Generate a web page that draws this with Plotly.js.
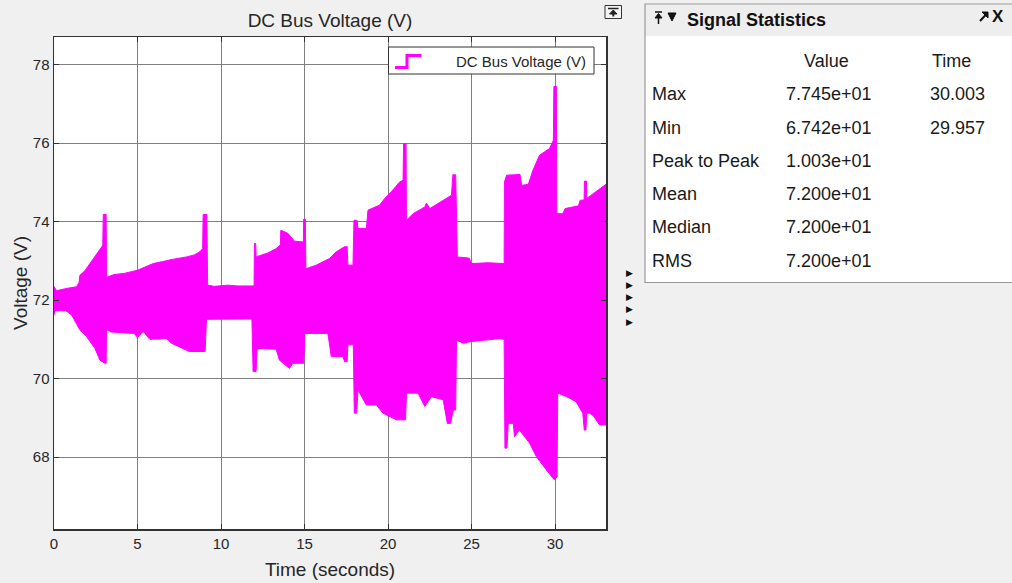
<!DOCTYPE html>
<html>
<head>
<meta charset="utf-8">
<script src="https://cdn.plot.ly/plotly-3.0.1.min.js"></script>
<style>
  html, body { margin: 0; padding: 0; background: #f0f0f0; }
  #chart { width: 1012px; height: 583px; }
</style>
</head>
<body>
<div id="chart"></div>
<script>
// ---- Data (envelope of the DC bus voltage band) ----
const upperTime = [0.00,0.15,0.80,1.36,1.50,1.55,1.85,2.20,2.50,2.85,2.92,2.95,3.12,3.15,3.60,4.20,5.00,5.50,5.94,6.50,7.00,7.94,8.40,8.73,8.90,8.93,9.15,9.20,9.60,10.40,11.00,11.98,12.00,12.08,12.10,12.80,13.30,13.55,13.58,14.00,14.40,14.93,14.95,15.05,15.08,15.70,16.10,16.50,16.90,17.40,17.55,17.60,17.90,17.96,18.15,18.20,18.70,18.80,19.50,19.80,20.20,20.70,20.90,20.93,21.08,21.10,21.50,22.20,22.30,22.50,23.30,23.80,23.88,24.05,24.15,24.85,25.00,26.00,26.95,26.97,27.10,27.90,28.00,28.40,28.67,29.07,29.67,29.90,29.93,30.08,30.10,30.46,30.60,31.40,31.50,31.74,31.76,31.88,31.90,32.40,32.95,33.05];
const upperVolt = [72.35,72.24,72.30,72.34,72.45,72.63,72.75,72.95,73.12,73.35,73.40,74.18,74.18,72.58,72.65,72.68,72.76,72.85,72.93,72.98,73.03,73.10,73.15,73.23,73.31,74.18,74.18,72.38,72.35,72.38,72.36,72.36,73.44,73.44,73.10,73.20,73.31,73.40,73.78,73.70,73.50,73.48,74.06,74.06,72.80,72.89,72.98,73.06,73.23,73.36,73.36,72.89,72.89,74.03,74.03,73.82,73.82,74.29,74.42,74.59,74.76,75.01,75.05,75.98,75.98,74.03,74.20,74.37,74.47,74.33,74.54,74.67,75.19,75.19,73.10,73.07,72.93,72.95,72.93,75.01,75.18,75.20,74.92,74.95,75.30,75.69,75.86,76.07,77.44,77.44,74.20,74.20,74.33,74.40,74.54,74.55,75.03,75.03,74.59,74.75,74.92,74.95];
const lowerTime = [0.00,0.05,0.70,1.06,1.55,1.95,2.45,2.75,3.05,3.12,3.15,3.40,4.80,5.00,5.34,5.74,6.74,7.04,7.70,8.10,9.05,9.13,11.85,11.92,12.10,12.16,13.30,13.50,14.10,14.30,14.95,15.02,16.40,16.60,17.30,17.40,17.55,17.60,17.92,17.98,18.12,18.20,18.70,19.30,19.70,20.50,21.05,21.10,21.80,22.20,22.60,23.30,23.55,23.75,23.90,24.05,24.10,24.50,24.90,26.70,26.95,27.00,27.12,27.20,27.50,27.57,27.87,28.47,28.87,29.47,29.86,29.97,30.12,30.16,30.70,31.26,31.66,31.75,31.85,31.90,32.06,32.30,32.66,33.05];
const lowerVolt = [71.62,71.73,71.73,71.62,71.24,71.07,70.77,70.47,70.39,70.39,71.25,71.19,71.15,71.05,71.20,71.00,71.02,70.90,70.77,70.69,70.69,71.51,71.52,70.18,70.18,70.77,70.75,70.47,70.26,70.39,70.39,71.15,71.15,70.56,70.56,70.43,70.43,70.86,70.86,69.12,69.12,69.71,69.33,69.33,69.12,68.95,68.95,69.63,69.63,69.29,69.54,69.46,68.86,68.86,69.20,69.20,70.98,70.90,70.94,71.02,71.00,68.23,68.23,68.86,68.86,68.52,68.69,68.36,68.02,67.68,67.47,67.42,67.50,69.63,69.54,69.41,69.12,68.69,68.69,69.12,69.12,69.05,68.82,68.82];

const xTickVals = [0, 5, 10, 15, 20, 25, 30];
const yTickVals = [68, 70, 72, 74, 76, 78];

const seriesName = 'DC Bus Voltage (V)';
const statNames  = ['Max', 'Min', 'Peak to Peak', 'Mean', 'Median', 'RMS'];
const statValues = ['7.745e+01', '6.742e+01', '1.003e+01', '7.200e+01', '7.200e+01', '7.200e+01'];
const statTimes  = ['30.003', '29.957', '', '', '', ''];

// ---- Layout helpers (pixel -> paper) ----
const PL = 54, PR = 606, PT = 37, PB = 529;
const px = x => (x - PL) / (PR - PL);
const py = y => (PB - y) / (PB - PT);
const FONT = 'Liberation Sans, Arial, sans-serif';
const MAG = '#ff00ff';

// Band polygon built from the envelopes
const bandX = upperTime.concat(lowerTime.slice().reverse());
const bandY = upperVolt.concat(lowerVolt.slice().reverse());

const traces = [{
  type: 'scatter', mode: 'lines', x: bandX, y: bandY,
  fill: 'toself', fillcolor: MAG,
  line: { color: MAG, width: 1 }, name: seriesName, showlegend: false,
  hoverinfo: 'skip'
}];

const shapes = [];
const annotations = [];

// Legend (step-line icon, like the scope)
shapes.push({ type: 'rect', xref: 'paper', yref: 'paper', x0: px(388.5), x1: px(594), y0: py(74), y1: py(47),
  fillcolor: '#ffffff', line: { color: '#333333', width: 1 } });
shapes.push({ type: 'path', xref: 'paper', yref: 'paper',
  path: `M ${px(395)},${py(67.5)} L ${px(407)},${py(67.5)} L ${px(407)},${py(55.5)} L ${px(421.5)},${py(55.5)}`,
  line: { color: MAG, width: 3 } });
annotations.push({ xref: 'paper', yref: 'paper', x: px(588), y: py(61.5), xanchor: 'right', yanchor: 'middle',
  text: seriesName, showarrow: false, font: { family: FONT, size: 15, color: '#262626' } });

// Scope undock icon
shapes.push({ type: 'rect', xref: 'paper', yref: 'paper', x0: px(605), x1: px(621.5), y0: py(18.5), y1: py(5.5),
  fillcolor: '#f4f4f4', line: { color: '#333333', width: 1 } });
shapes.push({ type: 'path', xref: 'paper', yref: 'paper',
  path: `M ${px(608)},${py(8.5)} L ${px(618.5)},${py(8.5)}`, line: { color: '#222', width: 1.5 } });
shapes.push({ type: 'path', xref: 'paper', yref: 'paper',
  path: `M ${px(613.3)},${py(10)} L ${px(609.5)},${py(14)} L ${px(617)},${py(14)} Z`,
  fillcolor: '#222', line: { color: '#222', width: 1 } });
shapes.push({ type: 'path', xref: 'paper', yref: 'paper',
  path: `M ${px(613.3)},${py(13)} L ${px(613.3)},${py(16.5)}`, line: { color: '#222', width: 2 } });

// Small arrows between plot and panel
for (let i = 0; i < 5; i++) {
  annotations.push({ xref: 'paper', yref: 'paper', x: px(629.5), y: py(272.7 + i * 12.2),
    xanchor: 'center', yanchor: 'middle', text: '▶', showarrow: false,
    font: { family: 'DejaVu Sans', size: 9, color: '#111' } });
}

// Signal Statistics panel
shapes.push({ type: 'rect', xref: 'paper', yref: 'paper', x0: px(645), x1: px(1014), y0: py(282.5), y1: py(36),
  fillcolor: '#ffffff', line: { width: 0 } });
shapes.push({ type: 'rect', xref: 'paper', yref: 'paper', x0: px(645), x1: px(1014), y0: py(36), y1: py(4),
  fillcolor: '#eeeeee', line: { width: 0 } });
shapes.push({ type: 'path', xref: 'paper', yref: 'paper',
  path: `M ${px(1014)},${py(4)} L ${px(645)},${py(4)} L ${px(645)},${py(282.5)} L ${px(1014)},${py(282.5)}`,
  line: { color: '#9a9a9a', width: 1.2 } });

// header glyphs: pin (bar + arrow) and dropdown triangle
shapes.push({ type: 'path', xref: 'paper', yref: 'paper',
  path: `M ${px(655)},${py(12)} L ${px(662)},${py(12)}`, line: { color: '#111', width: 1.5 } });
shapes.push({ type: 'path', xref: 'paper', yref: 'paper',
  path: `M ${px(658.5)},${py(13.5)} L ${px(655)},${py(18)} L ${px(662)},${py(18)} Z`,
  fillcolor: '#111', line: { color: '#111', width: 1 } });
shapes.push({ type: 'path', xref: 'paper', yref: 'paper',
  path: `M ${px(658.5)},${py(17)} L ${px(658.5)},${py(24)}`, line: { color: '#111', width: 1.5 } });
shapes.push({ type: 'path', xref: 'paper', yref: 'paper',
  path: `M ${px(668)},${py(13)} L ${px(676)},${py(13)} L ${px(672)},${py(21)} Z`,
  fillcolor: '#111', line: { color: '#111', width: 1 } });
annotations.push({ xref: 'paper', yref: 'paper', x: px(685), y: py(20), xanchor: 'left', yanchor: 'middle',
  text: '<b>Signal Statistics</b>', showarrow: false, font: { family: FONT, size: 18, color: '#111' } });
// undock arrow + close
shapes.push({ type: 'path', xref: 'paper', yref: 'paper',
  path: `M ${px(980)},${py(21)} L ${px(987)},${py(13.5)}`, line: { color: '#111', width: 2 } });
shapes.push({ type: 'path', xref: 'paper', yref: 'paper',
  path: `M ${px(982)},${py(12)} L ${px(988)},${py(12)} L ${px(988)},${py(18)} Z`,
  fillcolor: '#111', line: { color: '#111', width: 1 } });
annotations.push({ xref: 'paper', yref: 'paper', x: px(998), y: py(16.5), xanchor: 'center', yanchor: 'middle',
  text: '<b>X</b>', showarrow: false, font: { family: FONT, size: 17, color: '#111' } });

annotations.push({ xref: 'paper', yref: 'paper', x: px(827), y: py(61), xanchor: 'center', yanchor: 'middle',
  text: 'Value', showarrow: false, font: { family: FONT, size: 18, color: '#1a1a1a' } });
annotations.push({ xref: 'paper', yref: 'paper', x: px(930), y: py(61), xanchor: 'left', yanchor: 'middle',
  text: 'Time', showarrow: false, font: { family: FONT, size: 18, color: '#1a1a1a' } });

statNames.forEach((n, i) => {
  const yy = py(94.5 + i * 33.2);
  annotations.push({ xref: 'paper', yref: 'paper', x: px(650), y: yy, xanchor: 'left', yanchor: 'middle',
    text: n, showarrow: false, font: { family: FONT, size: 18, color: '#1a1a1a' } });
  annotations.push({ xref: 'paper', yref: 'paper', x: px(829), y: yy, xanchor: 'center', yanchor: 'middle',
    text: statValues[i], showarrow: false, font: { family: FONT, size: 18, color: '#1a1a1a' } });
  if (statTimes[i]) {
    annotations.push({ xref: 'paper', yref: 'paper', x: px(928), y: yy, xanchor: 'left', yanchor: 'middle',
      text: statTimes[i], showarrow: false, font: { family: FONT, size: 18, color: '#1a1a1a' } });
  }
});

const layout = {
  width: 1012, height: 583,
  margin: { l: PL, r: 1012 - PR, t: PT, b: 583 - PB, pad: 0 },
  paper_bgcolor: '#f0f0f0', plot_bgcolor: '#ffffff',
  showlegend: false,
  font: { family: FONT, color: '#262626' },
  title: { text: 'DC Bus Voltage (V)', x: px(330), xanchor: 'center', y: 1 - 20 / 583, yanchor: 'middle',
    xref: 'paper', font: { family: FONT, size: 19, color: '#262626' } },
  xaxis: {
    range: [0, 33.05], tickvals: xTickVals, ticks: 'inside', ticklen: 5, tickcolor: '#333',
    showline: true, linecolor: '#333', linewidth: 1.5, mirror: 'ticks',
    showgrid: true, gridcolor: '#7f7f7f', gridwidth: 1, zeroline: false,
    tickfont: { family: FONT, size: 15, color: '#262626' },
    title: { text: 'Time (seconds)', font: { family: FONT, size: 19, color: '#262626' }, standoff: 12 }
  },
  yaxis: {
    range: [66.17, 78.70], tickvals: yTickVals, ticks: 'inside', ticklen: 5, tickcolor: '#333',
    showline: true, linecolor: '#333', linewidth: 1.5, mirror: 'ticks',
    showgrid: true, gridcolor: '#7f7f7f', gridwidth: 1, zeroline: false,
    tickfont: { family: FONT, size: 15, color: '#262626' },
    title: { text: 'Voltage (V)', font: { family: FONT, size: 19, color: '#262626' }, standoff: 0 }
  },
  shapes: shapes,
  annotations: annotations
};

Plotly.newPlot('chart', traces, layout, { displayModeBar: false, staticPlot: true });
</script>
</body>
</html>
